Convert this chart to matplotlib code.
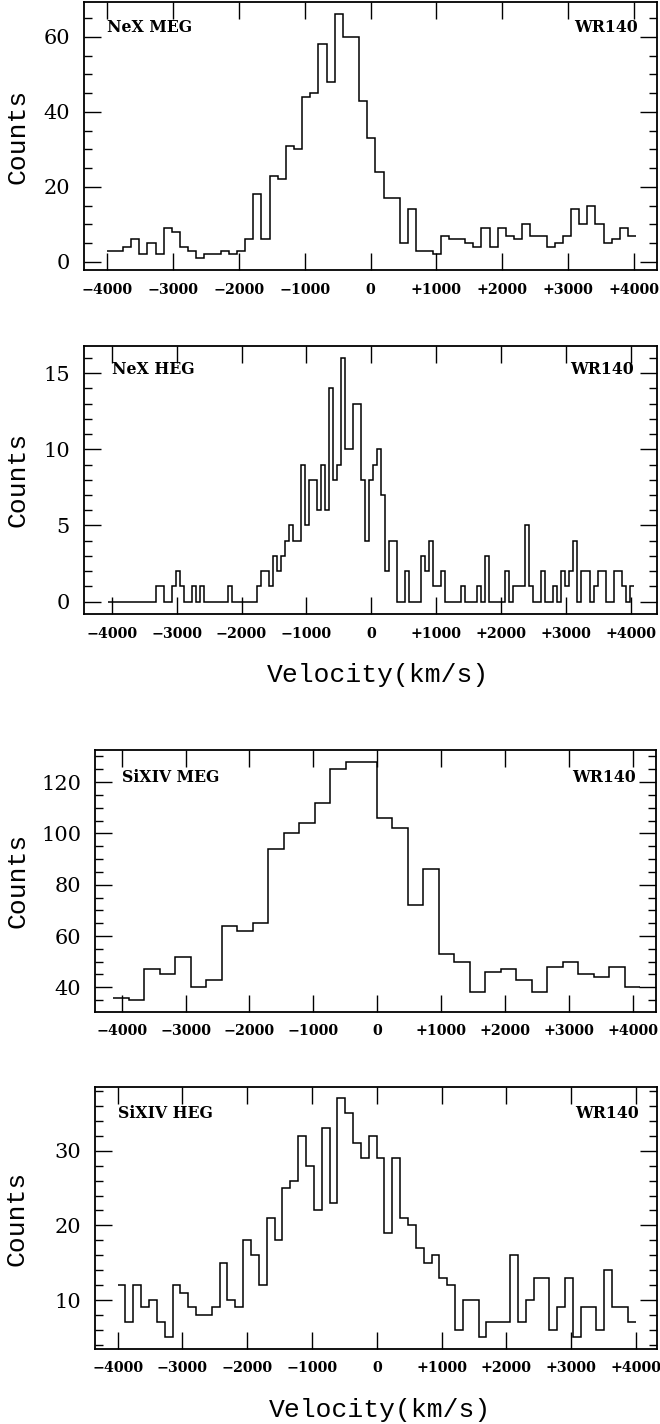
import numpy as np
import matplotlib
matplotlib.use('Agg')
import matplotlib.pyplot as plt
from matplotlib.ticker import MultipleLocator, FixedLocator, FixedFormatter
import matplotlib.transforms as mtransforms

# ==============================
# DATA (counts per bin)
# ==============================
nex_meg = [3, 3, 4, 6, 2, 5, 2, 9, 8, 4, 3, 1, 2, 2, 3, 2, 3, 6, 18, 6,
           23, 22, 31, 30, 44, 45, 58, 48, 66, 60, 60, 43, 33, 24, 17, 17, 5, 14, 3, 3,
           2, 7, 6, 6, 5, 4, 9, 4, 9, 7, 6, 10, 7, 7, 4, 5, 7, 14, 10, 15,
           10, 5, 6, 9, 7]

nex_heg = ([0] * 12 + [1, 1, 0, 0, 1, 2, 1, 0, 0, 1, 0, 1] + [0] * 6 + [1] + [0] * 6 +
           [1, 2, 2, 1, 3, 2, 3, 4, 5, 4, 4, 9, 5, 8, 8, 6, 9, 6, 14, 8, 9, 16, 10, 10] +
           [13, 13, 8, 4, 8, 9, 10, 7, 2, 4, 4, 0, 0, 2, 0, 0, 0, 3, 2, 4,
            1, 1, 2, 0, 0, 0, 0, 1, 0, 0, 0, 1, 0, 3, 0, 0, 0, 0, 2, 0] +
           [1, 1, 1, 5, 1, 0, 0, 2, 0, 0, 1, 0, 2, 1, 2, 4, 0, 2, 2, 0,
            1, 2, 2, 0, 0, 2, 2, 1, 0, 1])

sixiv_meg = [36, 35, 47, 45, 52, 40, 43, 64, 62, 65, 94, 100, 104, 112, 125, 128, 128,
             106, 102, 72, 86, 53, 50, 38, 46, 47, 43, 38, 48, 50, 45, 44, 48, 40]

sixiv_heg = [12, 7, 12, 9, 10, 7, 5, 12, 11, 9, 8, 8, 9, 15, 10, 9, 18, 16, 12, 21,
             18, 25, 26, 32, 28, 22, 33, 23, 37, 35, 31, 29, 32, 29, 19, 29, 21, 20, 17, 15,
             16, 13, 12, 6, 10, 10, 5, 7, 7, 7, 16, 7, 10, 13, 13, 6, 9, 13, 5, 9,
             9, 6, 14, 9, 9, 7]

# first bin edge and bin width in km/s
nex_meg_bins = (-4000, 123.5)
nex_heg_bins = (-4055, 61.8)
sixiv_meg_bins = (-4130, 242.5)
sixiv_heg_bins = (-4000, 121.1)

labels = ['NeX MEG', 'NeX HEG', 'SiXIV MEG', 'SiXIV HEG']
star = 'WR140'
xtick_vals = [-4000, -3000, -2000, -1000, 0, 1000, 2000, 3000, 4000]
xtick_labels = ['\u22124000', '\u22123000', '\u22122000', '\u22121000', '0',
                '+1000', '+2000', '+3000', '+4000']

# ==============================
# LAYOUT
# ==============================
W, H = 660, 1424
fig = plt.figure(figsize=(W / 100, H / 100), dpi=100)

def px_axes(left, right, top, bottom):
    return [left / W, 1 - bottom / H, (right - left) / W, (bottom - top) / H]

panels = [
    dict(counts=nex_meg, bins=nex_meg_bins, rect=px_axes(83.7, 657, 2, 270),
         xlim=(-4349, 4344), ylim=(-2.2, 69.3), major=20, minor=5, ylab_x=-0.0954, ty=0.888),
    dict(counts=nex_heg, bins=nex_heg_bins, rect=px_axes(83.7, 656.7, 345.7, 614),
         xlim=(-4431, 4396), ylim=(-0.81, 16.8), major=5, minor=1, ylab_x=-0.0954, ty=0.894),
    dict(counts=sixiv_meg, bins=sixiv_meg_bins, rect=px_axes(95, 656, 750, 1011.7),
         xlim=(-4418, 4365), ylim=(30.5, 132.5), major=20, minor=5, ylab_x=-0.1176, ty=0.879),
    dict(counts=sixiv_heg, bins=sixiv_heg_bins, rect=px_axes(95, 656.7, 1087.3, 1349),
         xlim=(-4349, 4318), ylim=(3.44, 38.5), major=10, minor=2, ylab_x=-0.1176, ty=0.883),
]

serif = 'DejaVu Serif'
mono = 'Liberation Mono'

for p, lab in zip(panels, labels):
    ax = fig.add_axes(p['rect'])
    counts = np.array(p['counts'], dtype=float)
    start, width = p['bins']
    edges = start + width * np.arange(len(counts) + 1)
    ax.stairs(counts, edges, baseline=None, color='black', lw=1.1)

    ax.set_xlim(*p['xlim'])
    ax.set_ylim(*p['ylim'])

    ax.xaxis.set_major_locator(FixedLocator(xtick_vals))
    ax.xaxis.set_major_formatter(FixedFormatter(xtick_labels))
    ax.yaxis.set_major_locator(MultipleLocator(p['major']))
    ax.yaxis.set_minor_locator(MultipleLocator(p['minor']))

    ax.tick_params(which='both', direction='in', top=True, right=True, width=1.0)
    ax.tick_params(which='major', length=12)
    ax.tick_params(which='minor', length=5.5)
    ax.tick_params(axis='x', pad=9)
    ax.tick_params(axis='y', pad=10)
    for t in ax.get_xticklabels():
        t.set_fontfamily(serif)
        t.set_fontweight('bold')
        t.set_fontsize(10.3)
    for t in ax.get_yticklabels():
        t.set_fontfamily(serif)
        t.set_fontsize(15)
    for s in ax.spines.values():
        s.set_linewidth(1.3)

    ax.set_ylabel('Counts', family=mono, fontsize=19)
    ax.yaxis.set_label_coords(p['ylab_x'], 0.5)

    trans = mtransforms.blended_transform_factory(ax.transData, ax.transAxes)
    ax.text(-4000, p['ty'], lab, transform=trans, family=serif, fontweight='bold',
            fontsize=11.3, ha='left', va='baseline')
    ax.text(4050, p['ty'], star, transform=trans, family=serif, fontweight='bold',
            fontsize=11.3, ha='right', va='baseline')

fig.text(378 / W, 1 - 675 / H, 'Velocity(km/s)', family=mono, fontsize=19,
         ha='center', va='center')
fig.text(380 / W, 1 - 1410 / H, 'Velocity(km/s)', family=mono, fontsize=19,
         ha='center', va='center')

fig.savefig('out.png', dpi=100)
